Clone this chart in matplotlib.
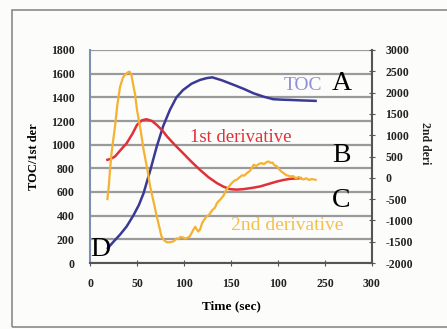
import matplotlib
matplotlib.use("Agg")
import matplotlib.pyplot as plt
from matplotlib.patches import Rectangle

# ---- data ----
toc_t = [19, 25, 32, 39, 46, 52, 57, 64, 71, 78, 85, 92, 99, 108, 117, 124, 130, 140, 153, 164, 174, 185, 195, 205, 213, 225, 240]
toc_v = [126, 180, 240, 309, 400, 490, 590, 780, 984, 1160, 1294, 1400, 1462, 1515, 1547, 1562, 1569, 1545, 1505, 1470, 1434, 1405, 1384, 1380, 1378, 1374, 1370]

d1_t = [18.5, 22, 26.6, 32, 39, 45, 50, 55, 60, 66, 71, 77, 82, 90, 99, 108, 117, 126, 135, 142, 149, 156, 163, 172, 181, 190, 199, 206, 213, 224]
d1_v = [872, 880, 900, 950, 1012, 1090, 1167, 1205, 1215, 1200, 1167, 1120, 1069, 1000, 928, 855, 787, 725, 675, 645, 624, 620, 624, 634, 647, 668, 689, 702, 711, 717]

d2_t = [18.5, 20, 21, 23, 26.6, 29, 32, 35, 37, 40, 42, 44, 45, 48, 50, 54, 57, 61, 64, 68, 71, 74, 76, 79, 82, 85, 89, 92, 94, 96, 99, 101, 103, 106, 108, 110, 112, 115, 117, 119, 121, 124, 127, 130, 133, 135, 139, 142, 145, 148, 151, 154, 156, 159, 162, 164, 167, 170, 172, 174, 177, 180, 183, 185, 188, 190, 192, 194, 196, 199, 202, 204, 206, 209, 211, 213, 216, 219, 222, 224, 227, 230, 233, 236, 240]
d2_v = [-500, -200, 109, 600, 1203, 1700, 2140, 2350, 2414, 2470, 2492, 2420, 2297, 1950, 1594, 1100, 656, 200, -203, -600, -906, -1180, -1375, -1470, -1516, -1510, -1492, -1420, -1440, -1391, -1400, -1430, -1414, -1380, -1300, -1219, -1150, -1260, -1219, -1080, -1000, -906, -860, -760, -700, -594, -500, -420, -281, -200, -120, -60, -47, 10, 60, 50, 109, 160, 220, 305, 280, 330, 344, 320, 370, 383, 350, 360, 300, 266, 180, 140, 109, 60, 50, 31, 40, -10, 20, -8, -40, -10, -50, -30, -47]

x_ticks = [0, 50, 100, 150, 200, 250, 300]
x_labels = ["0", "50", "100", "150", "100", "250", "300"]
left_ticks = [0, 200, 400, 600, 800, 1000, 1200, 1400, 1600, 1800]
left_labels = ["0", "200", "400", "600", "800", "1000", "1200", "1400", "1600", "1800"]
right_ticks = [-2000, -1500, -1000, -500, 0, 500, 1000, 1500, 2000, 2500, 3000]
right_labels = ["-2000", "-1500", "-1000", "-500", "0", "500", "1000", "1500", "2000", "2500", "3000"]

serif = ["Liberation Serif", "DejaVu Serif"]

fig = plt.figure(figsize=(4.47, 3.29), dpi=100)
fig.patch.set_facecolor("#fcfcfa")
# outer frame (right edge runs off the picture)
fig.add_artist(Rectangle((12/447, 1-327/329), 460/447, 317/329, transform=fig.transFigure,
                         fill=False, edgecolor="#8a8a8a", lw=1.2))

ax = fig.add_axes([90/447, 1-263/329, 282/447, 213/329])
ax.set_facecolor("none")
ax.set_xlim(0, 300)
ax.set_ylim(0, 1800)
ax.set_yticks(left_ticks)
ax.set_yticklabels(left_labels)
ax.set_xticks(x_ticks)
ax.set_xticklabels(x_labels)
ax.grid(axis="y", color="#9a9a9a", lw=1.6)
ax.set_axisbelow(True)
ax.spines["top"].set_visible(False)
ax.spines["left"].set_color("#7f8fb0")
ax.spines["left"].set_linewidth(1.5)
ax.spines["bottom"].set_color("#555555")
ax.spines["bottom"].set_linewidth(1.5)
ax.spines["right"].set_visible(False)
ax.tick_params(axis="y", length=0, pad=11, labelsize=8.5, labelcolor="#222222")
ax.tick_params(axis="x", direction="inout", length=5, color="#555555", pad=8, labelsize=8.5, labelcolor="#222222")
for lab in ax.get_xticklabels() + ax.get_yticklabels():
    lab.set_fontfamily(serif)
    lab.set_fontweight("bold")

ax2 = ax.twinx()
ax2.set_ylim(-2000, 3000)
ax2.set_yticks(right_ticks)
ax2.set_yticklabels(right_labels)
for s in ["top", "left", "bottom"]:
    ax2.spines[s].set_visible(False)
ax2.spines["right"].set_color("#555555")
ax2.spines["right"].set_linewidth(1.5)
ax2.tick_params(axis="y", direction="inout", length=5, color="#555555", pad=7, labelsize=8.5, labelcolor="#222222")
for lab in ax2.get_yticklabels():
    lab.set_fontfamily(serif)
    lab.set_fontweight("bold")

ax.plot(toc_t, toc_v, color="#3a3a96", lw=1.8, zorder=3)
ax.plot(d1_t, d1_v, color="#e0303a", lw=1.8, zorder=3)
ax2.plot(d2_t, d2_v, color="#f5b232", lw=1.6, zorder=2)

ax.set_xlabel("Time (sec)", fontfamily=serif, fontweight="bold", fontsize=9.5, labelpad=8)
ax.set_ylabel("TOC/1st der", fontfamily=serif, fontweight="bold", fontsize=9, labelpad=8)
fig.text(425/447, 1-143/329, "2nd deri", fontfamily=serif, fontweight="bold", fontsize=8.5,
         rotation=-90, ha="center", va="center", color="#222222")

# curve labels
fig.text(303/447, 1-86/329, "TOC", color="#9090d8", fontfamily=serif, fontsize=14, ha="center", va="center")
fig.text(241/447, 1-138/329, "1st derivative", color="#e0303a", fontfamily=serif, fontsize=13.5, ha="center", va="center")
fig.text(287/447, 1-226/329, "2nd derivative", color="#f5c04a", fontfamily=serif, fontsize=14, ha="center", va="center")

for txt, x, y in [("A", 342, 84), ("B", 341, 155), ("C", 341, 201), ("D", 100, 250)]:
    fig.text(x/447, 1-y/329, txt, color="black", fontfamily=serif, fontsize=20, ha="center", va="center")

fig.savefig("out.png", dpi=100, facecolor=fig.get_facecolor())
